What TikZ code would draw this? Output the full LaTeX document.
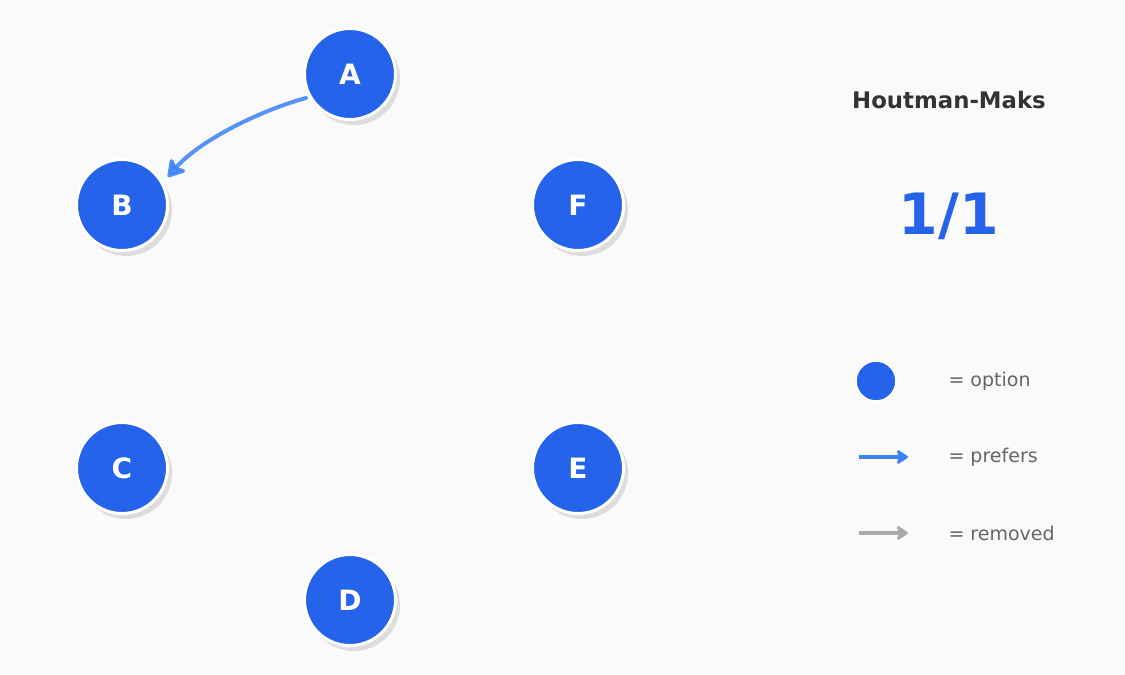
\documentclass[tikz,border=0pt]{standalone}
\usepackage{fontspec}
\setmainfont{DejaVu Sans}
\usetikzlibrary{arrows.meta}
\definecolor{bg}{HTML}{FAFAFA}
\definecolor{nodeblue}{HTML}{2563EB}
\definecolor{arrowblue}{HTML}{3B82F6}
\definecolor{shadowgray}{HTML}{DDDDDD}
\definecolor{titlegray}{HTML}{333333}
\definecolor{legendgray}{HTML}{666666}
\definecolor{removedgray}{HTML}{AAAAAA}
\tikzset{
  option/.style={circle, fill=nodeblue, draw=white, line width=3pt, minimum size=91pt, inner sep=0pt,
    text=white, font=\fontsize{28}{28}\selectfont\bfseries},
  shadowc/.style={circle, fill=shadowgray, minimum size=92pt, inner sep=0pt},
  prefers/.style={draw=arrowblue, line width=4pt, line cap=round, -{Stealth[length=20pt,width=24pt,inset=5pt,round]}, opacity=0.85},
  legarrow/.style={line width=4pt, -{Stealth[length=13pt,width=17pt,inset=3pt,round]}},
  legtext/.style={anchor=west, text=legendgray, font=\fontsize{19}{19}\selectfont},
}
\begin{document}
\begin{tikzpicture}[x=1pt,y=-1pt]
\fill[bg] (0,0) rectangle (1125,675);
\useasboundingbox (0,0) rectangle (1125,675);
% shadows
\foreach \x/\y in {350/74,122/205,578/205,122/468,578/468,350/600}
  \node[shadowc] at (\x+4,\y+5) {};
% nodes
\node[option] (A) at (350,74) {A};
\node[option] (B) at (122,205) {B};
\node[option] (F) at (578,205) {F};
\node[option] (C) at (122,468) {C};
\node[option] (E) at (578,468) {E};
\node[option] (D) at (350,600) {D};
% arrow
\coordinate (s) at (306,98);
\coordinate (t) at (168,177);
\draw[prefers] (s) .. controls (255,112) and (197,143) .. (t);
% title
\node[text=titlegray, font=\fontsize{22.8}{22.8}\selectfont\bfseries] (title) at (949,100) {Houtman-Maks};
\node[text=nodeblue, font=\fontsize{57}{57}\selectfont\bfseries] (count) at (949,216) {1/1};
% legend
\node[circle, fill=nodeblue, draw=white, line width=1.5pt, minimum size=40pt, inner sep=0pt] (lo) at (876,381) {};
\node[legtext] (lt1) at (945,381) {= option};
\coordinate (p1) at (859,457);
\coordinate (p2) at (908,457);
\draw[legarrow, draw=arrowblue] (p1) -- (p2);
\node[legtext] (lt2) at (945,457) {= prefers};
\coordinate (r1) at (859,533);
\coordinate (r2) at (908,533);
\draw[legarrow, draw=removedgray] (r1) -- (r2);
\node[legtext] (lt3) at (945,533) {= removed};
\end{tikzpicture}
\end{document}
